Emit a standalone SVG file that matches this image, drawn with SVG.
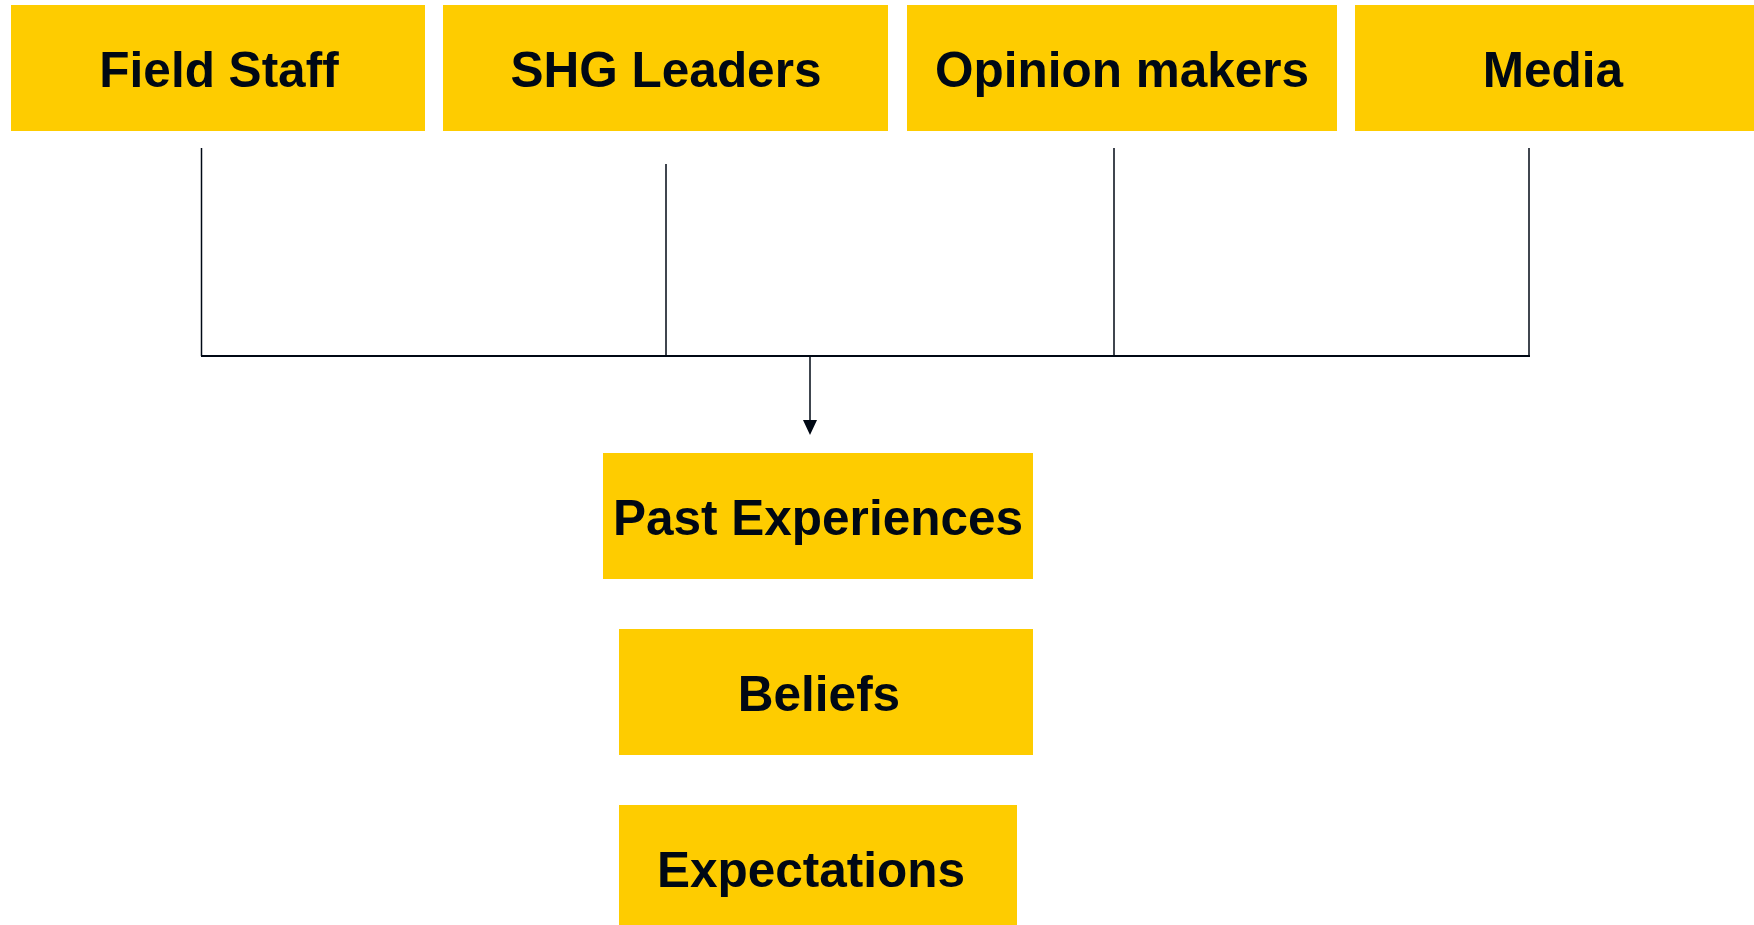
<svg xmlns="http://www.w3.org/2000/svg" width="1754" height="925" viewBox="0 0 1754 925">
  <style>
    .box { fill: #FECC00; }
    .label { font-family: "Liberation Sans", Arial, sans-serif; font-weight: bold; font-size: 49.5px; fill: #000814; text-anchor: middle; }
    .wire { stroke: #000814; stroke-width: 1.5; fill: none; }
    .bus { stroke: #000814; stroke-width: 2; fill: none; }
  </style>
  <defs>
    <!-- solid triangular head, base at the end of the line -->
    <marker id="arrow" markerWidth="15" markerHeight="14" refX="0" refY="7" orient="auto" markerUnits="userSpaceOnUse" viewBox="0 0 15 14">
      <path d="M0,0 L15,7 L0,14 Z" fill="#000814"/>
    </marker>
  </defs>
  <rect width="1754" height="925" fill="#ffffff"/>

  <g id="node-field-staff">
    <rect class="box" x="11" y="5" width="414" height="126"/>
    <text class="label" x="219" y="87">Field Staff</text>
  </g>
  <g id="node-shg-leaders">
    <rect class="box" x="443" y="5" width="445" height="126"/>
    <text class="label" x="666" y="87">SHG Leaders</text>
  </g>
  <g id="node-opinion-makers">
    <rect class="box" x="907" y="5" width="430" height="126"/>
    <text class="label" x="1122" y="87">Opinion makers</text>
  </g>
  <g id="node-media">
    <rect class="box" x="1355" y="5" width="399" height="126"/>
    <text class="label" x="1553" y="87">Media</text>
  </g>

  <g id="connectors">
    <line class="wire" x1="201.5" y1="148" x2="201.5" y2="356"/>
    <line class="wire" x1="666" y1="164" x2="666" y2="356"/>
    <line class="wire" x1="1114" y1="148" x2="1114" y2="356"/>
    <line class="wire" x1="1529" y1="148" x2="1529" y2="356"/>
    <line class="bus" x1="201" y1="356" x2="1530" y2="356"/>
    <line class="wire" x1="810" y1="356" x2="810" y2="420" marker-end="url(#arrow)"/>
  </g>

  <g id="node-past-experiences">
    <rect class="box" x="603" y="453" width="430" height="126"/>
    <text class="label" x="818" y="535">Past Experiences</text>
  </g>
  <g id="node-beliefs">
    <rect class="box" x="619" y="629" width="414" height="126"/>
    <text class="label" x="819" y="711">Beliefs</text>
  </g>
  <g id="node-expectations">
    <rect class="box" x="619" y="805" width="398" height="120"/>
    <text class="label" x="811" y="887">Expectations</text>
  </g>
</svg>
